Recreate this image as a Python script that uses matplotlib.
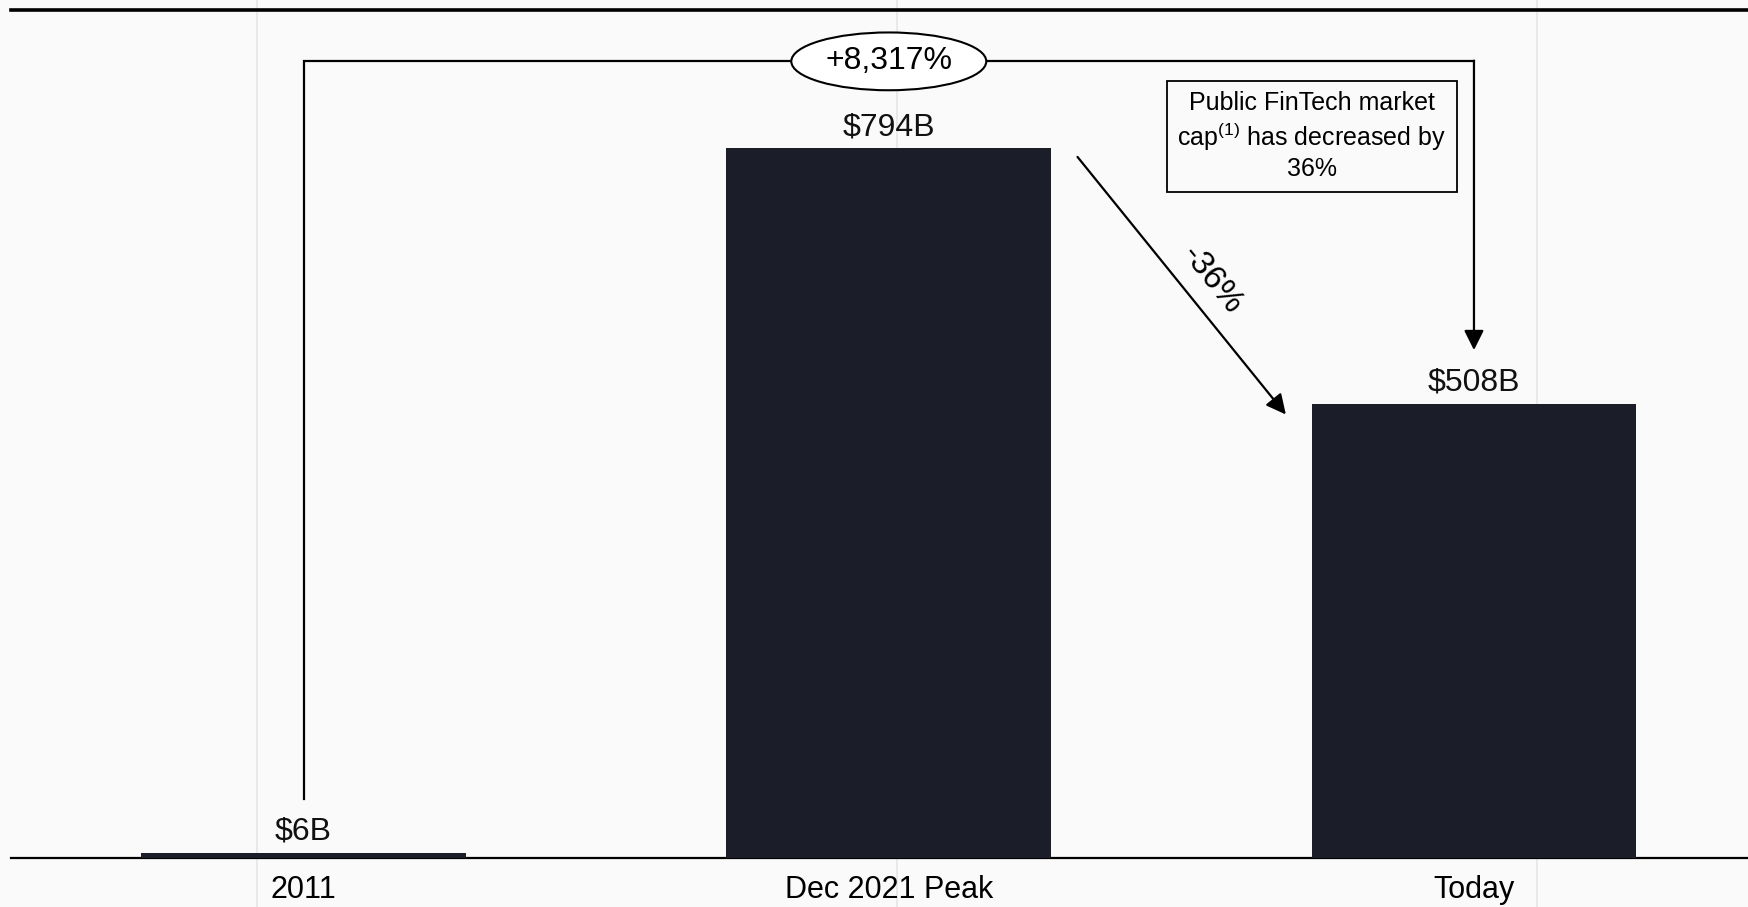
import matplotlib
matplotlib.use('Agg')
import matplotlib.pyplot as plt

categories = ["2011", "Dec 2021 Peak", "Today"]
values = [6, 794, 508]
value_labels = ["$6B", "$794B", "$508B"]
growth_label = "+8,317%"
drop_label = "-36%"
note_text = "Public FinTech market\ncap$^{(1)}$ has decreased by\n36%"

# light background guides, in bar-index units
grid_x = [-0.08, 1.014, 2.108]

bg = "#fafafa"
bar_color = "#1b1d29"

plt.rcParams['font.family'] = ['Liberation Sans', 'DejaVu Sans']
plt.rcParams['mathtext.fontset'] = 'custom'
plt.rcParams['mathtext.rm'] = 'Liberation Sans'

fig = plt.figure(figsize=(17.49, 9.07), dpi=100, facecolor=bg)
ax = fig.add_axes([0.0063, 0.054, 0.9937, 0.9355])
ax.set_facecolor(bg)

xs = list(range(len(categories)))
width = 0.555
ax.bar(xs, values, width=width, color=bar_color, zorder=3)

ymax = max(values) * 1.195
ax.set_ylim(0, ymax)
ax.set_xlim(-0.5, 2.47)

for x in grid_x:
    ax.axvline(x, ymin=-0.1, ymax=1.05, color="#e6e6e6", lw=1.2,
               zorder=0, clip_on=False)

for x, v, lab in zip(xs, values, value_labels):
    ax.annotate(lab, (x, v), xytext=(0, 15), textcoords="offset points",
                ha="center", va="center", fontsize=23, color="#111111", zorder=5)

# bracket from 2011 to Today
top = max(values) * 1.122
gap = 60
ax.plot([xs[0], xs[0], xs[2]], [values[0] + gap, top, top],
        color="black", lw=1.6, zorder=4, solid_joinstyle="miter")
ax.annotate("", xy=(xs[2], values[2] + gap), xytext=(xs[2], top + 0.8),
            arrowprops=dict(arrowstyle="-|>,head_length=0.5,head_width=0.25",
                            color="black", lw=1.6,
                            mutation_scale=24, shrinkA=0, shrinkB=0),
            zorder=4)
ax.text(xs[1], top, growth_label, ha="center", va="center", fontsize=23,
        zorder=6,
        bbox=dict(boxstyle="ellipse,pad=0.17", fc="white", ec="black", lw=1.5))

# drop arrow from peak to today
x0 = xs[1] + width / 2 + 0.045
x1 = xs[2] - width / 2 - 0.044
y0 = values[1] - 10
y1 = values[2] - 12
ax.annotate("", xy=(x1, y1), xytext=(x0, y0),
            arrowprops=dict(arrowstyle="-|>,head_length=0.5,head_width=0.25",
                            color="black", lw=1.6,
                            mutation_scale=24, shrinkA=0, shrinkB=0),
            zorder=4)
ax.text((x0 + x1) / 2 + 0.052, (y0 + y1) / 2 + 6, drop_label, ha="center",
        va="center", rotation=-51, fontsize=24, zorder=5)

ax.text(1.723, 807, note_text, ha="center", va="center", fontsize=18,
        linespacing=1.22, zorder=6,
        bbox=dict(boxstyle="square,pad=0.42", fc=bg, ec="black", lw=1.3))

ax.set_xticks(xs)
ax.set_xticklabels(categories, fontsize=22)
ax.tick_params(axis="x", length=0, pad=12)
ax.set_yticks([])

for s in ["left", "right"]:
    ax.spines[s].set_visible(False)
ax.spines["top"].set_linewidth(2.6)
ax.spines["bottom"].set_linewidth(1.6)

fig.savefig("out.png", dpi=100, facecolor=bg)
